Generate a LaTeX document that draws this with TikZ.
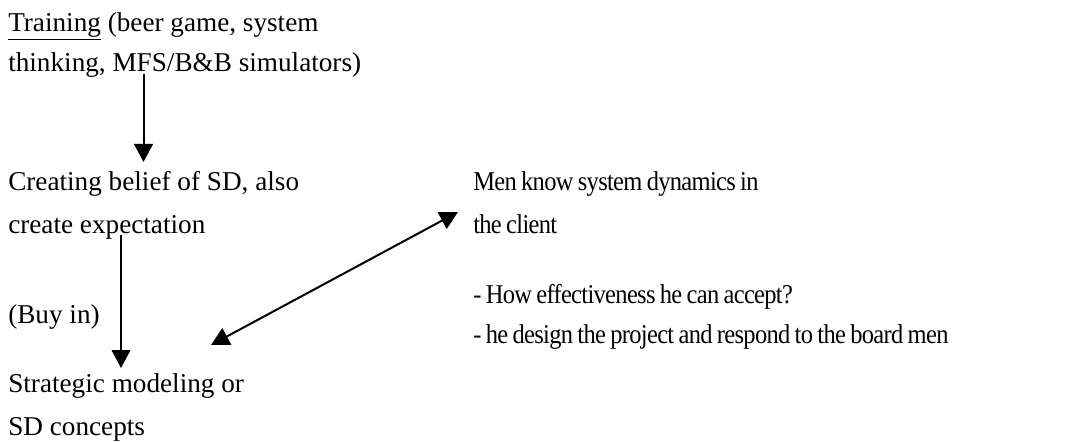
\documentclass[tikz,border=0pt]{standalone}
\usepackage{fontspec}
\setmainfont{Liberation Serif}
\newfontfamily\narrowserif[FakeStretch=0.9, LetterSpace=-2.5, WordSpace=0.8]{Liberation Serif}
\usepackage{xcolor}
\usetikzlibrary{arrows.meta}

\begin{document}
\begin{tikzpicture}[x=0.75pt,y=-0.75pt]
			\tikzstyle{block} = [anchor=west, inner sep=0pt, align=left, font=\fontsize{20.4}{32.25}\selectfont]
			\tikzstyle{tight} = [block, font=\fontsize{20.4}{30}\selectfont]
			\tikzstyle{narrow} = [block, font=\fontsize{20.4}{32.25}\narrowserif]
			\tikzstyle{narrowtight} = [block, font=\fontsize{20.4}{30}\narrowserif]
			\tikzset{edge/.style = {line width=1.5pt, -{Triangle[length=13.5pt, width=14pt]}}}
			\tikzset{both/.style = {line width=1.5pt, {Triangle[length=13.5pt, width=14pt]}-{Triangle[length=13.5pt, width=14pt]}}}
			\useasboundingbox (0,0) rectangle (1073,442);
			
			% left column
			\node[tight](train)  at (8,45.5)  {\underline{Training} (beer game, system\\thinking, MFS/B\&B simulators)};
			\node[block](belief) at (8,205.2) {Creating belief of SD, also\\create expectation};
			\node[block](buyin)  at (8,316.5) {(Buy in)};
			\node[block](strat)  at (8,407.2) {Strategic modeling or\\SD concepts};
			
			% right column
			\node[narrow](men)         at (473,202.2) {Men know system dynamics in\\the client};
			\node[narrowtight](points) at (473,316.6) {- How effectiveness he can accept?\\- he design the project and respond to the board men};
			
			% arrow ends
			\coordinate(trainOut)  at (143.5,74);
			\coordinate(beliefIn)  at (143.5,162);
			\coordinate(beliefOut) at (121,235);
			\coordinate(stratIn)   at (121,368);
			\coordinate(stratSide) at (211,345);
			\coordinate(menSide)   at (458,212);
			\draw[edge](trainOut)  to (beliefIn);
			\draw[edge](beliefOut) to (stratIn);
			\draw[both](stratSide) to (menSide);
\end{tikzpicture}
\end{document}
